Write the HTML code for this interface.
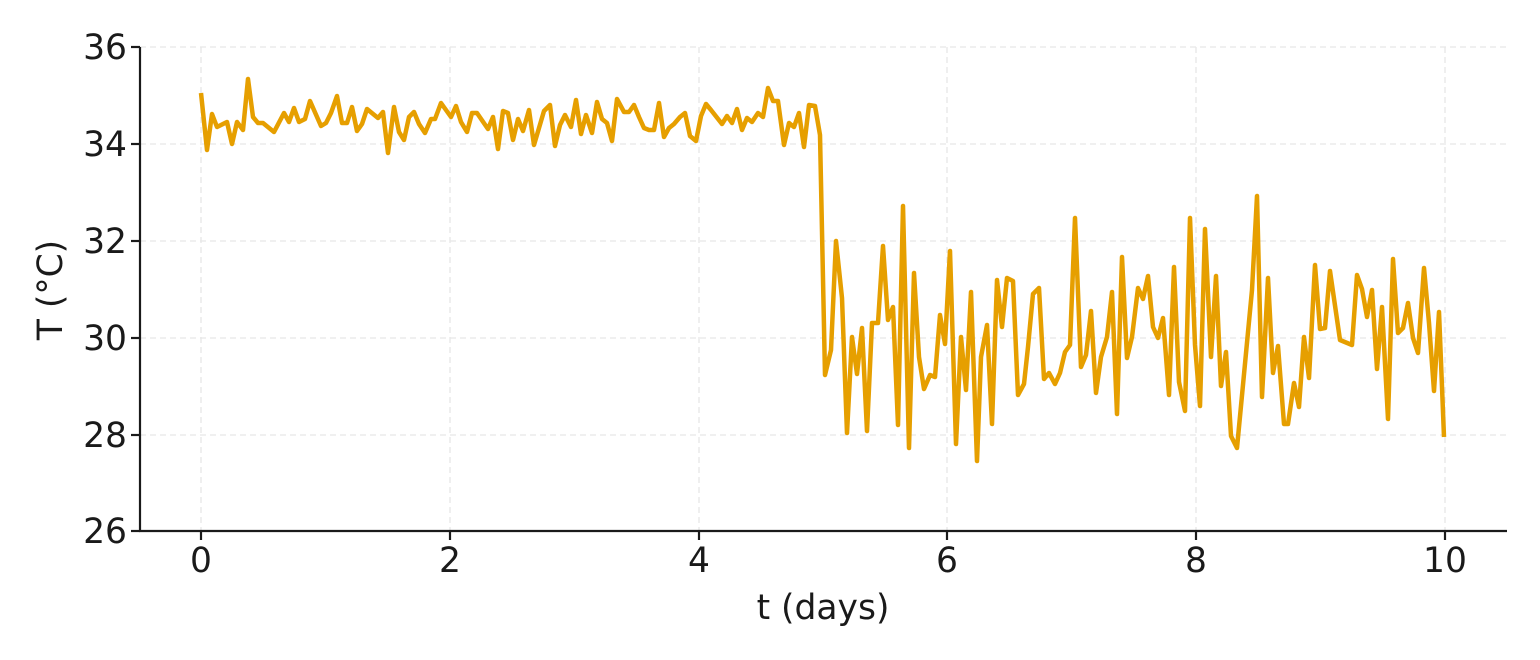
<!DOCTYPE html>
<html><head><meta charset="utf-8"><style>body{margin:0;background:#fff}svg{display:block}text{font-family:"DejaVu Sans","Liberation Sans",sans-serif;fill:#1a1a1a}</style></head><body>
<svg width="1540" height="660" viewBox="0 0 1540 660">
<g stroke="#e6e6e6" stroke-width="1.3" stroke-dasharray="6,4">
<line x1="140" y1="47" x2="1507" y2="47"/><line x1="140" y1="144" x2="1507" y2="144"/><line x1="140" y1="241" x2="1507" y2="241"/><line x1="140" y1="338" x2="1507" y2="338"/><line x1="140" y1="435" x2="1507" y2="435"/>
<line x1="201" y1="47" x2="201" y2="531"/><line x1="450" y1="47" x2="450" y2="531"/><line x1="699" y1="47" x2="699" y2="531"/><line x1="947" y1="47" x2="947" y2="531"/><line x1="1196" y1="47" x2="1196" y2="531"/><line x1="1445" y1="47" x2="1445" y2="531"/>
</g>
<polyline fill="none" stroke="#E69F00" stroke-width="4.5" stroke-linejoin="round" points="201,93 207,150 212,114 217,127 227,122 232,144 237,122 243,130 248,79 253,117 258,123 263,123 274,132 284,113 289,122 294,108 299,122 305,119 310,101 321,126 326,123 331,113 337,96 342,123 347,123 352,107 357,131 362,124 367,109 378,118 383,112 388,153 394,107 399,132 404,140 409,117 414,112 419,124 425,133 431,119 435,119 441,103 451,117 456,106 461,122 467,132 472,113 477,113 488,129 493,117 498,149 503,111 508,113 513,140 518,119 523,131 529,110 534,145 544,111 550,105 555,146 560,125 565,115 571,127 576,100 581,134 586,115 592,133 597,102 602,119 607,123 612,141 617,99 624,112 629,112 634,105 639,117 644,128 649,130 654,130 659,103 664,137 669,128 674,124 680,117 685,113 690,136 696,141 701,116 706,104 711,110 722,124 727,116 732,123 737,109 742,130 747,118 752,122 758,113 763,117 768,88 773,101 778,101 784,145 789,123 794,127 799,113 804,147 809,105 815,106 820,135 825,375 831,350 836,241 842,298 847,433 852,337 857,374 862,328 867,431 872,323 878,323 883,246 888,320 893,307 898,425 903,206 909,448 914,273 919,357 924,389 930,375 935,377 940,315 945,344 950,251 956,444 961,337 966,390 971,292 977,461 981,357 987,325 992,424 997,280 1002,327 1007,278 1013,281 1018,395 1024,384 1028,347 1033,294 1039,288 1044,379 1049,373 1055,384 1060,373 1065,352 1070,345 1075,218 1081,367 1086,355 1091,311 1096,393 1101,357 1107,337 1112,292 1117,414 1122,257 1127,358 1132,337 1138,288 1143,299 1148,276 1153,327 1158,338 1163,318 1169,395 1174,267 1179,382 1185,411 1190,218 1195,345 1200,406 1205,229 1211,357 1216,276 1221,386 1226,352 1231,436 1237,448 1252,290 1257,196 1262,397 1268,278 1273,373 1278,346 1284,424 1288,424 1294,383 1299,407 1304,337 1309,378 1315,265 1320,329 1325,328 1330,271 1340,340 1352,345 1357,275 1362,289 1367,317 1372,290 1377,369 1382,307 1388,419 1393,259 1398,333 1403,328 1408,303 1413,338 1418,353 1424,268 1429,323 1434,391 1439,312 1444,437"/>
<g stroke="#1a1a1a" stroke-width="2.2" fill="none">
<polyline points="140,47 140,531 1507,531"/>
<line x1="131" y1="47" x2="140" y2="47"/><line x1="131" y1="144" x2="140" y2="144"/><line x1="131" y1="241" x2="140" y2="241"/><line x1="131" y1="338" x2="140" y2="338"/><line x1="131" y1="435" x2="140" y2="435"/><line x1="131" y1="531" x2="140" y2="531"/>
<line x1="201" y1="531" x2="201" y2="540"/><line x1="450" y1="531" x2="450" y2="540"/><line x1="699" y1="531" x2="699" y2="540"/><line x1="947" y1="531" x2="947" y2="540"/><line x1="1196" y1="531" x2="1196" y2="540"/><line x1="1445" y1="531" x2="1445" y2="540"/>
</g>
<g font-size="34.5" text-anchor="end">
<text x="127" y="59">36</text><text x="127" y="156">34</text><text x="127" y="253">32</text><text x="127" y="350">30</text><text x="127" y="447">28</text><text x="127" y="543">26</text>
</g>
<g font-size="34.5" text-anchor="middle">
<text x="201" y="572">0</text><text x="450" y="572">2</text><text x="699" y="572">4</text><text x="947" y="572">6</text><text x="1196" y="572">8</text><text x="1445" y="572">10</text>
<text x="823" y="619">t (days)</text>
<text transform="translate(62,290) rotate(-90)">T (°C)</text>
</g>
</svg>
</body></html>
